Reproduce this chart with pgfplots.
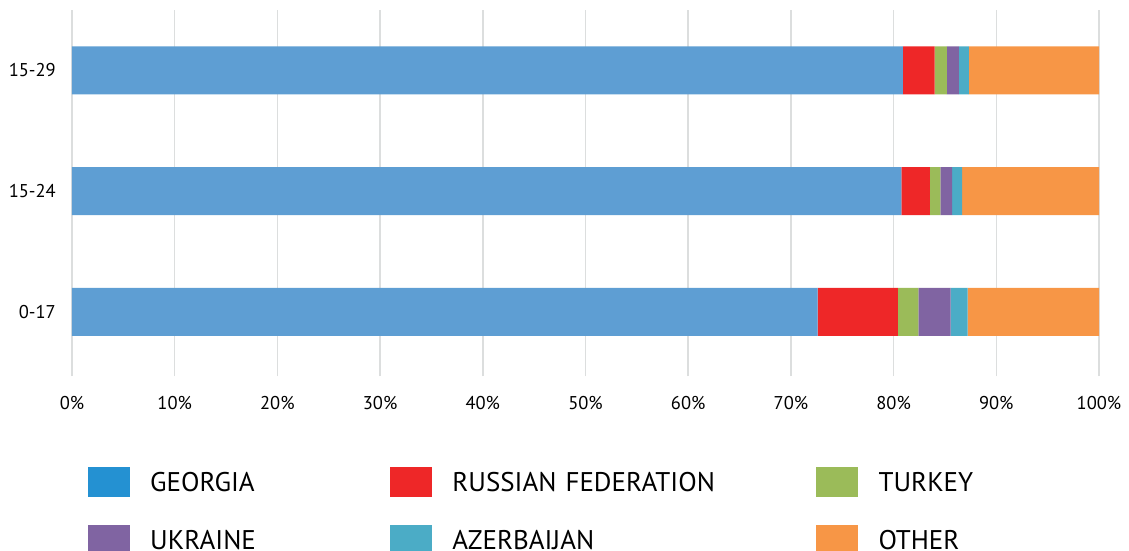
\documentclass[border=0pt]{standalone}
\usepackage{fontspec}
\setmainfont{PT Sans}
\usepackage{pgfplots}
\pgfplotsset{compat=1.18}
\definecolor{cgeo}{RGB}{94,158,211}
\definecolor{crus}{RGB}{238,39,40}
\definecolor{ctur}{RGB}{155,187,89}
\definecolor{cukr}{RGB}{128,100,162}
\definecolor{caze}{RGB}{75,172,198}
\definecolor{coth}{RGB}{247,150,70}
\definecolor{lgeo}{RGB}{36,145,210}
\definecolor{gridc}{RGB}{220,222,222}
\begin{document}
\begin{tikzpicture}
\begin{axis}[
  scale only axis,
  width=1027pt, height=366pt,
  xbar stacked,
  bar width=48pt,
  xmin=0, xmax=100,
  ymin=-0.53, ymax=2.5,
  ytick={0,1,2},
  yticklabels={0-17,15-24,15-29},
  xtick={0,10,...,100},
  xticklabel={\pgfmathprintnumber{\tick}\%},
  /pgf/number format/assume math mode=true,
  xmajorgrids,
  major grid style={draw=gridc, line width=1.6pt},
  axis line style={draw=none},
  xtick style={draw=none}, ytick style={draw=none},
  tick label style={font=\fontsize{18.5}{20}\selectfont},
  xticklabel style={anchor=north, inner sep=0pt, text height=13pt, text depth=0pt, yshift=-20pt},
  yticklabel style={anchor=east, inner sep=0pt, xshift=-16pt},
  legend cell align=left,
  legend image code/.code={\path[#1, draw=none] (0pt,-15pt) rectangle (42pt,15pt); \path (62pt,0pt);},
  legend style={at={(0.01558,-0.2486)}, anchor=north west, draw=none, fill=none,
    inner sep=0pt, outer sep=0pt, column sep=0pt, row sep=28pt,
    font=\fontsize{27}{28}\selectfont},
  legend columns=3,
]
\addplot[fill=cgeo, draw=none, forget plot] coordinates {(72.6,0) (80.76,1) (80.9,2)};
\addplot[fill=crus, draw=none, forget plot] coordinates {(7.82,0) (2.76,1) (3.09,2)};
\addplot[fill=ctur, draw=none, forget plot] coordinates {(1.98,0) (1.04,1) (1.20,2)};
\addplot[fill=cukr, draw=none, forget plot] coordinates {(3.15,0) (1.13,1) (1.17,2)};
\addplot[fill=caze, draw=none, forget plot] coordinates {(1.66,0) (0.97,1) (0.97,2)};
\addplot[fill=coth, draw=none, forget plot] coordinates {(12.79,0) (13.34,1) (12.67,2)};
\addlegendimage{fill=lgeo}
\addlegendentry[text width=240pt, text height=20pt, text depth=0pt, inner sep=0pt]{GEORGIA}
\addlegendimage{fill=crus}
\addlegendentry[text width=364pt, text height=20pt, text depth=0pt, inner sep=0pt]{RUSSIAN FEDERATION}
\addlegendimage{fill=ctur}
\addlegendentry[text width=200pt, text height=20pt, text depth=0pt, inner sep=0pt]{TURKEY}
\addlegendimage{fill=cukr}
\addlegendentry[text width=240pt, text height=20pt, text depth=0pt, inner sep=0pt]{UKRAINE}
\addlegendimage{fill=caze}
\addlegendentry[text width=364pt, text height=20pt, text depth=0pt, inner sep=0pt]{AZERBAIJAN}
\addlegendimage{fill=coth}
\addlegendentry[text width=200pt, text height=20pt, text depth=0pt, inner sep=0pt]{OTHER}
\end{axis}
\pgfresetboundingbox
\path[use as bounding box] (-72pt,-175pt) rectangle (1057pt,376pt);
\end{tikzpicture}
\end{document}
